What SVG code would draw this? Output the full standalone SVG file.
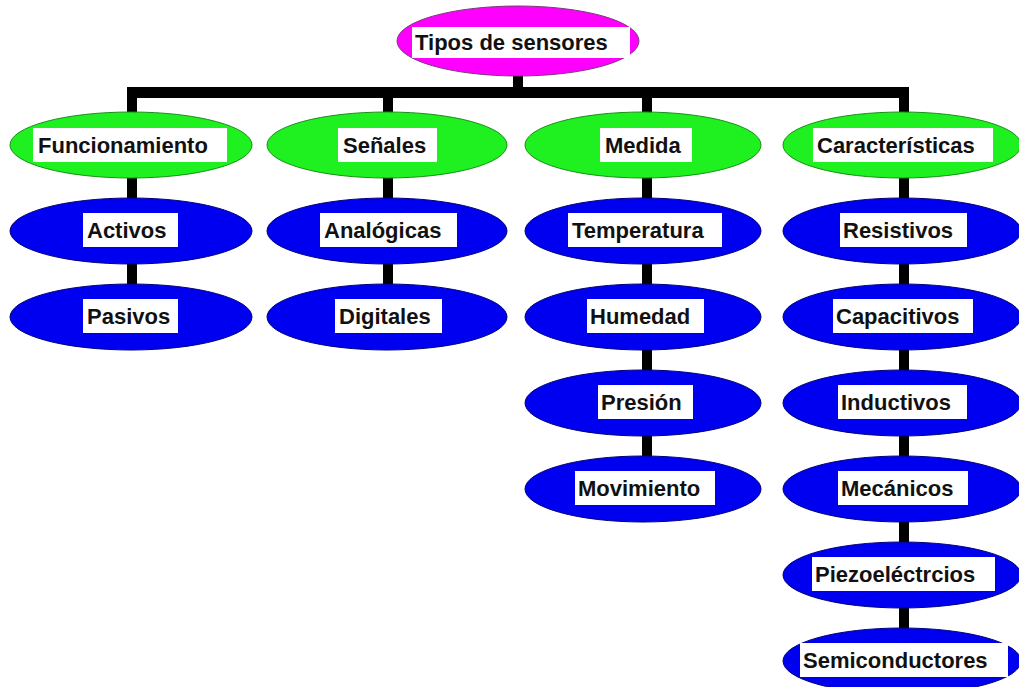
<svg xmlns="http://www.w3.org/2000/svg" width="1019" height="687" viewBox="0 0 1019 687">
<style>
.root{fill:#ff00ff;stroke:#7a3a7a;stroke-width:1}
.cat{fill:#1ff01f;stroke:#169016;stroke-width:1}
.leaf{fill:#0000f0;stroke:#00007a;stroke-width:1}
.box{fill:#ffffff}
.lbl{font-family:"Liberation Sans",Arial,sans-serif;font-weight:bold;font-size:22px;fill:#111111}
.bar{fill:#000000}
</style>
<rect width="1019" height="687" fill="#ffffff"/>
<g id="connectors">
<rect class="bar" x="513" y="74" width="10" height="16"/>
<rect class="bar" x="127" y="87" width="782" height="11"/>
<rect class="bar" x="127" y="92" width="10" height="22"/>
<rect class="bar" x="383" y="92" width="10" height="22"/>
<rect class="bar" x="642" y="92" width="10" height="22"/>
<rect class="bar" x="899" y="92" width="10" height="22"/>
<rect class="bar" x="127" y="176" width="10" height="24"/>
<rect class="bar" x="127" y="262" width="10" height="24"/>
<rect class="bar" x="383" y="176" width="10" height="24"/>
<rect class="bar" x="383" y="262" width="10" height="24"/>
<rect class="bar" x="642" y="176" width="10" height="24"/>
<rect class="bar" x="642" y="262" width="10" height="24"/>
<rect class="bar" x="642" y="348" width="10" height="24"/>
<rect class="bar" x="642" y="434" width="10" height="24"/>
<rect class="bar" x="899" y="176" width="10" height="24"/>
<rect class="bar" x="899" y="262" width="10" height="24"/>
<rect class="bar" x="899" y="348" width="10" height="24"/>
<rect class="bar" x="899" y="434" width="10" height="24"/>
<rect class="bar" x="899" y="520" width="10" height="24"/>
<rect class="bar" x="899" y="606" width="10" height="24"/>
</g>
<g id="tipos"><ellipse class="root" cx="518" cy="41" rx="121" ry="35"/><rect class="box" x="412" y="27" width="218" height="31"/><text class="lbl" x="415" y="50">Tipos de sensores</text></g>
<g id="funcionamiento"><ellipse class="cat" cx="131" cy="145" rx="121" ry="33"/><rect class="box" x="33" y="128" width="194" height="34"/><text class="lbl" x="38" y="153">Funcionamiento</text></g>
<g id="senales"><ellipse class="cat" cx="387" cy="145" rx="120" ry="33"/><rect class="box" x="338" y="128" width="99" height="34"/><text class="lbl" x="343" y="153">Señales</text></g>
<g id="medida"><ellipse class="cat" cx="643" cy="145" rx="118" ry="33"/><rect class="box" x="600" y="128" width="92" height="34"/><text class="lbl" x="605" y="153">Medida</text></g>
<g id="caracteristicas"><ellipse class="cat" cx="902" cy="145" rx="119" ry="33"/><rect class="box" x="813" y="128" width="180" height="34"/><text class="lbl" x="817" y="153">Características</text></g>
<g id="activos"><ellipse class="leaf" cx="131" cy="231" rx="121" ry="33"/><rect class="box" x="83" y="213" width="95" height="34"/><text class="lbl" x="87" y="238">Activos</text></g>
<g id="pasivos"><ellipse class="leaf" cx="131" cy="317" rx="121" ry="33"/><rect class="box" x="83" y="299" width="95" height="34"/><text class="lbl" x="87" y="324">Pasivos</text></g>
<g id="analogicas"><ellipse class="leaf" cx="387" cy="231" rx="120" ry="33"/><rect class="box" x="320" y="213" width="137" height="34"/><text class="lbl" x="324" y="238">Analógicas</text></g>
<g id="digitales"><ellipse class="leaf" cx="387" cy="317" rx="120" ry="33"/><rect class="box" x="335" y="299" width="107" height="34"/><text class="lbl" x="339" y="324">Digitales</text></g>
<g id="temperatura"><ellipse class="leaf" cx="643" cy="231" rx="118" ry="33"/><rect class="box" x="568" y="213" width="154" height="34"/><text class="lbl" x="572" y="238">Temperatura</text></g>
<g id="humedad"><ellipse class="leaf" cx="643" cy="317" rx="118" ry="33"/><rect class="box" x="587" y="299" width="117" height="34"/><text class="lbl" x="590" y="324">Humedad</text></g>
<g id="presion"><ellipse class="leaf" cx="643" cy="403" rx="118" ry="33"/><rect class="box" x="598" y="385" width="95" height="34"/><text class="lbl" x="601" y="410">Presión</text></g>
<g id="movimiento"><ellipse class="leaf" cx="643" cy="489" rx="118" ry="33"/><rect class="box" x="575" y="471" width="140" height="34"/><text class="lbl" x="578" y="496">Movimiento</text></g>
<g id="resistivos"><ellipse class="leaf" cx="902" cy="231" rx="119" ry="33"/><rect class="box" x="840" y="213" width="127" height="34"/><text class="lbl" x="843" y="238">Resistivos</text></g>
<g id="capacitivos"><ellipse class="leaf" cx="902" cy="317" rx="119" ry="33"/><rect class="box" x="833" y="299" width="140" height="34"/><text class="lbl" x="836" y="324">Capacitivos</text></g>
<g id="inductivos"><ellipse class="leaf" cx="902" cy="403" rx="119" ry="33"/><rect class="box" x="838" y="385" width="129" height="34"/><text class="lbl" x="841" y="410">Inductivos</text></g>
<g id="mecanicos"><ellipse class="leaf" cx="902" cy="489" rx="119" ry="33"/><rect class="box" x="838" y="471" width="130" height="34"/><text class="lbl" x="841" y="496">Mecánicos</text></g>
<g id="piezoelectricos"><ellipse class="leaf" cx="902" cy="575" rx="119" ry="33"/><rect class="box" x="812" y="557" width="183" height="34"/><text class="lbl" x="815" y="582">Piezoeléctrcios</text></g>
<g id="semiconductores"><ellipse class="leaf" cx="902" cy="661" rx="119" ry="33"/><rect class="box" x="800" y="643" width="208" height="34"/><text class="lbl" x="803" y="668">Semiconductores</text></g>
</svg>
